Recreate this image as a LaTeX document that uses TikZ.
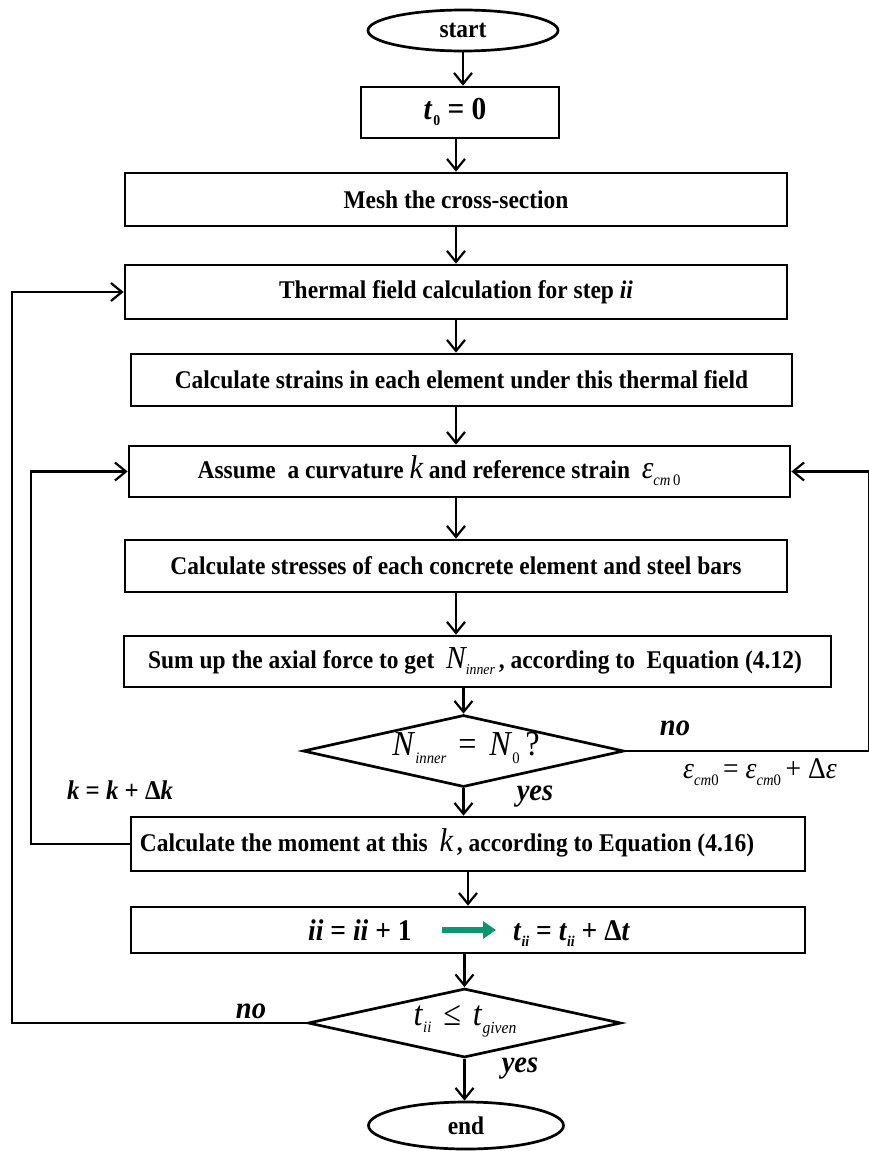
\documentclass[tikz,border=0pt]{standalone}
\usepackage{fontspec}
\usepackage{graphicx}
\setmainfont{Liberation Serif}
\usetikzlibrary{shapes.geometric,arrows.meta}
\newcommand\fs[1]{\fontsize{#1}{#1}\selectfont}
\newcommand\lowsub[2]{{\fs{#1}\raisebox{-0.45em}{#2}}}
\newcommand\cond[1]{\scalebox{0.92}[1]{#1}}
\definecolor{arrowgreen}{RGB}{10,150,110}
\tikzset{
  box/.style={draw, line width=2.7pt, rectangle, inner sep=0pt, font=\fs{25.5}\bfseries},
  oval/.style={draw, line width=2.7pt, ellipse, inner sep=0pt, font=\fs{25.5}\bfseries},
  dia/.style={draw, line width=2.7pt, diamond, inner sep=0pt},
  arr/.style={line width=2.2pt, -{Straight Barb[length=11pt,width=18pt,line width=2.2pt]}},
  lbl/.style={inner sep=0pt},
  greenarr/.style={line width=6pt, draw=arrowgreen, -{Triangle[length=13pt,width=17pt,fill=arrowgreen]}}
}
\begin{document}
\begin{tikzpicture}[x=1pt,y=-1pt]
\useasboundingbox[fill=white] (0,0) rectangle (869,1151);
% nodes
\node[oval, minimum width=190pt, minimum height=41pt] (start) at (463,30.5) {\cond{start}};
\node[box, minimum width=198pt, minimum height=51pt] (t0) at (460,112.5) {};
\node[lbl, font=\fs{32}\bfseries] (t0txt) at (455,112) {\cond{\textit{t}\kern1pt\lowsub{15}{0}\hspace{8pt}= 0}};
\node[box, minimum width=662pt, minimum height=53pt] (mesh) at (456,199.5) {\cond{Mesh the cross-section}};
\node[box, minimum width=662pt, minimum height=54pt] (thermal) at (456,292) {\cond{Thermal field calculation for step \textit{ii}}};
\node[box, minimum width=661pt, minimum height=52pt] (strains) at (461.5,380) {\cond{Calculate strains in each element under this thermal field}};
\node[box, minimum width=661pt, minimum height=51pt] (assume) at (459.5,471.5) {};
\node[lbl, font=\fs{25.5}\bfseries] (assumetxt) at (439,471) {\cond{Assume\ \ a curvature {\fs{33}\mdseries\itshape k} and reference strain\ \ {\fs{32}\mdseries\itshape ε}\lowsub{16}{\mdseries\itshape cm\,\upshape 0}}};
\node[box, minimum width=662pt, minimum height=52pt] (stresses) at (456,566) {\cond{Calculate stresses of each concrete element and steel bars}};
\node[box, minimum width=707pt, minimum height=51pt] (sumup) at (477.5,661.5) {};
\node[lbl, font=\fs{25.5}\bfseries] (sumuptxt) at (475,661) {\cond{Sum up the axial force to get\ \ {\fs{32}\mdseries\itshape N}\lowsub{15}{\mdseries\itshape inner}\,, according to\ \ Equation (4.12)}};
\node[dia, minimum width=321pt, minimum height=72pt] (d1) at (463.5,751) {};
\node[lbl, font=\fs{35}] (d1txt) at (466,748) {\cond{\textit{N}\lowsub{16}{\itshape inner}\hspace{13pt}=\hspace{14pt}\textit{N}\lowsub{16}{0}\hspace{6pt}?}};
\node[box, minimum width=674pt, minimum height=54pt] (moment) at (468,844) {};
\node[lbl, font=\fs{25.5}\bfseries] (momenttxt) at (447,843) {\cond{Calculate the moment at this\ \ {\fs{33}\mdseries\itshape k}\,, according to Equation (4.16)}};
\node[box, minimum width=674pt, minimum height=46pt] (ii) at (468,930) {};
\node[lbl, font=\fs{30}\bfseries, anchor=base west] (iitxt) at (308,940) {\cond{\textit{ii} = \textit{ii} + 1}};
\node[lbl, font=\fs{30}\bfseries, anchor=base west] (titxt) at (513,940) {\cond{\textit{t}\lowsub{15}{\itshape ii} = \textit{t}\lowsub{15}{\itshape ii} + Δ\textit{t}}};
\coordinate (ga) at (442,930);
\coordinate (gb) at (496,930);
\node[dia, minimum width=313pt, minimum height=69pt] (d2) at (464.5,1023) {};
\node[lbl, font=\fs{35}] (d2txt) at (465,1021) {\cond{\textit{t}\lowsub{16}{\itshape ii}\hspace{13pt}≤\hspace{13pt}\textit{t}\lowsub{17}{\itshape given}}};
\node[oval, minimum width=195pt, minimum height=47pt] (end) at (466,1125.5) {\cond{end}};
% side labels
\node[lbl, font=\fs{31}\bfseries\itshape] (no1) at (675,728) {\cond{no}};
\node[lbl, font=\fs{31}\bfseries\itshape] (yes1) at (535,797) {\cond{yes}};
\node[lbl, font=\fs{30}] (epstxt) at (760,772) {\cond{\textit{ε}\lowsub{16}{\itshape cm\upshape 0}\,= \textit{ε}\lowsub{16}{\itshape cm\upshape 0}\,+ Δ\textit{ε}}};
\node[lbl, font=\fs{27}\bfseries] (ktxt) at (120,790) {\cond{\textit{k} = \textit{k} + Δ\textit{k}}};
\node[lbl, font=\fs{31}\bfseries\itshape] (no2) at (251,1011) {\cond{no}};
\node[lbl, font=\fs{31}\bfseries\itshape] (yes2) at (520,1069) {\cond{yes}};
% loop corners
\coordinate (L1) at (12,0);
\coordinate (L2) at (31,0);
\coordinate (R1) at (869,0);
% main axis connectors
\draw[arr] (start.south) -- (start.south |- t0.north);
\draw[arr] (t0.south -| mesh.north) -- (mesh.north);
\draw[arr] (mesh.south) -- (thermal.north);
\draw[arr] (thermal.south) -- (thermal.south |- strains.north);
\draw[arr] (thermal.south |- strains.south) -- (thermal.south |- assume.north);
\draw[arr] (thermal.south |- assume.south) -- (stresses.north);
\draw[arr] (stresses.south) -- (stresses.south |- sumup.north);
\draw[arr] (d1.north |- sumup.south) -- (d1.north);
\draw[arr] (d1.south) -- (d1.south |- moment.north);
\draw[arr] (ii.north |- moment.south) -- (ii.north);
\draw[arr] (d2.north |- ii.south) -- (d2.north);
\draw[arr] (d2.south) -- (d2.south |- end.north);
% green arrow inside box
\draw[greenarr] (ga) -- (gb);
% loops
\draw[arr] (d2.west) -- (d2.west -| L1) -- (L1 |- thermal.west) -- (thermal.west);
\draw[arr] (moment.west) -- (moment.west -| L2) -- (L2 |- assume.west) -- (assume.west);
\draw[arr] (d1.east) -- (d1.east -| R1) -- (R1 |- assume.east) -- (assume.east);
\end{tikzpicture}
\end{document}
